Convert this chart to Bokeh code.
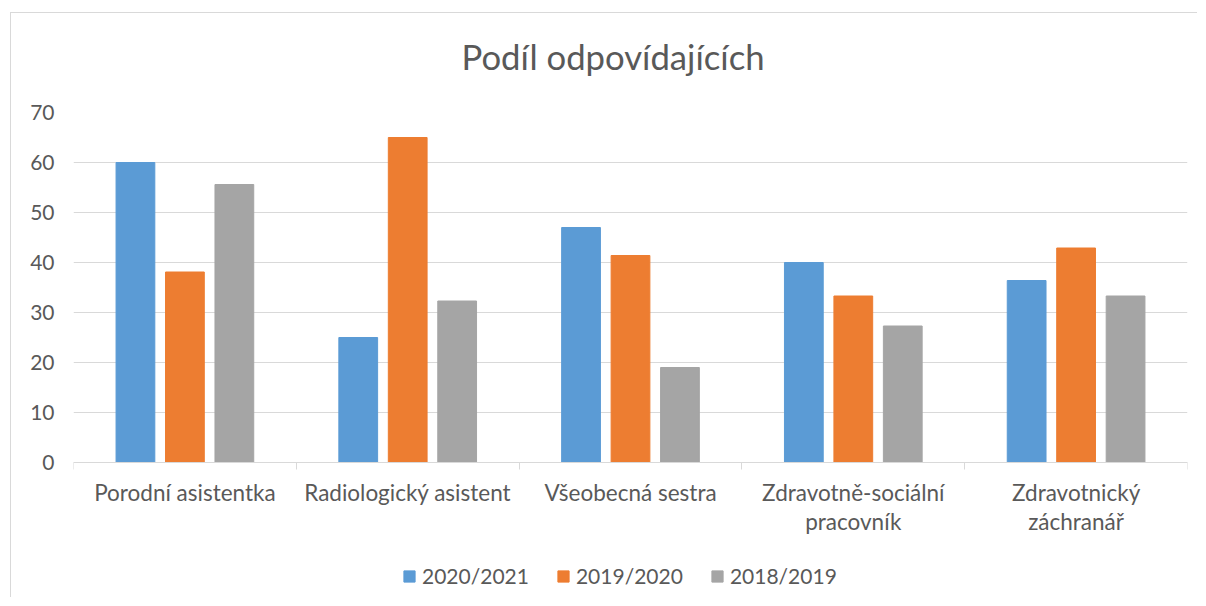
from bokeh.plotting import figure
from bokeh.models import (Range1d, ColumnDataSource, LinearAxis,
                          FixedTicker, Legend, LegendItem, CustomJSTickFormatter)
from bokeh.transform import dodge
from bokeh.embed import file_html
from bokeh.resources import INLINE

# ---- data ----
categories = ["Porodní asistentka", "Radiologický asistent", "Všeobecná sestra",
              "Zdravotně-sociální\npracovník", "Zdravotnický\nzáchranář"]
series_names = ["2020/2021", "2019/2020", "2018/2019"]
v_2020_2021 = [60.0, 25.0, 47.0, 40.0, 36.4]
v_2019_2020 = [38.1, 65.0, 41.4, 33.3, 42.9]
v_2018_2019 = [55.6, 32.3, 19.0, 27.3, 33.3]
y_ticks = [0, 10, 20, 30, 40, 50, 60, 70]
title_text = "Podíl odpovídajících"

colors = ["#5B9BD5", "#ED7D31", "#A5A5A5"]
FONT = "Lato"
TXT = "#595959"
GRID = "#d9d9d9"

n = len(categories)
idx = list(range(n))
src = ColumnDataSource(dict(idx=idx, a=v_2020_2021, b=v_2019_2020, c=v_2018_2019))

# frame extends below the value axis so the legend can sit inside it
W, H = 1187, 585
p = figure(x_range=Range1d(0, n), y_range=Range1d(-27.2, 70),
           width=W, height=H, output_backend="svg", toolbar_location=None,
           x_axis_location=None, y_axis_location=None,
           min_border_left=62, min_border_right=11, min_border_top=99, min_border_bottom=0)
p.margin = (12, 0, 0, 10)
p.styles = {"border-left": "1px solid #d9d9d9", "border-top": "1px solid #d9d9d9"}
p.outline_line_color = None
p.background_fill_color = "white"
p.border_fill_color = "white"

p.title.text = title_text
p.title.align = "left"
p.title.offset = 388
p.title.standoff = 10
p.title.text_font = FONT
p.title.text_font_size = "34.7px"
p.title.text_font_style = "normal"
p.title.text_color = TXT

# invisible spacer axis above the frame (lifts the title)
sax = LinearAxis(ticker=FixedTicker(ticks=[0.5]))
sax.formatter = CustomJSTickFormatter(code="return ''")
sax.axis_line_color = None
sax.major_tick_line_color = None
sax.minor_tick_line_color = None
sax.major_tick_out = 31
sax.major_tick_in = 0
sax.major_label_standoff = 0
sax.major_label_text_font_size = "1px"
p.add_layout(sax, "above")

# y axis
yax = LinearAxis(ticker=FixedTicker(ticks=y_ticks))
yax.axis_line_color = None
yax.major_tick_line_color = None
yax.minor_tick_line_color = None
yax.major_label_standoff = 13
yax.major_label_text_font = FONT
yax.major_label_text_font_size = "21px"
yax.major_label_text_color = TXT
p.add_layout(yax, "left")

# x tick axis (boundaries between categories), drawn at value 0
tax = LinearAxis(ticker=FixedTicker(ticks=list(range(n + 1))), fixed_location=0)
tax.formatter = CustomJSTickFormatter(code="return ''")
tax.axis_line_color = GRID
tax.major_tick_line_color = GRID
tax.major_tick_out = 7
tax.major_tick_in = 0
tax.minor_tick_line_color = None
tax.major_label_standoff = 0
tax.major_label_text_font_size = "1px"
p.add_layout(tax, "below")

# category label axis (labels at category centres)
centres = [i + 0.5 for i in idx]
cax = LinearAxis(ticker=FixedTicker(ticks=centres), fixed_location=0)
cax.major_label_overrides = {c: lab for c, lab in zip(centres, categories)}
cax.axis_line_color = None
cax.major_tick_line_color = None
cax.minor_tick_line_color = None
cax.major_tick_out = 0
cax.major_tick_in = 0
cax.major_label_standoff = 16
cax.major_label_text_font = FONT
cax.major_label_text_font_size = "22.5px"
cax.major_label_text_color = TXT
cax.major_label_text_line_height = 1.1
p.add_layout(cax, "below")

p.ygrid.grid_line_color = GRID
p.ygrid.ticker = FixedTicker(ticks=y_ticks)
p.xgrid.grid_line_color = None

bw = 0.174
r1 = p.vbar(x=dodge("idx", 0.5 - 0.222), top="a", width=bw, source=src, color=colors[0])
r2 = p.vbar(x=dodge("idx", 0.5), top="b", width=bw, source=src, color=colors[1])
r3 = p.vbar(x=dodge("idx", 0.5 + 0.222), top="c", width=bw, source=src, color=colors[2])

legend = Legend(items=[LegendItem(label=series_names[0], renderers=[r1]),
                       LegendItem(label=series_names[1], renderers=[r2]),
                       LegendItem(label=series_names[2], renderers=[r3])],
                orientation="horizontal", location=(329, 10))
legend.border_line_color = None
legend.background_fill_alpha = 0
legend.padding = 0
legend.margin = 0
legend.spacing = 27
legend.glyph_width = 14
legend.glyph_height = 14
legend.label_standoff = 6
legend.label_text_font = FONT
legend.label_text_font_size = "21px"
legend.label_text_color = TXT
p.add_layout(legend, "center")

open("out.html", "w").write(file_html(p, INLINE))
